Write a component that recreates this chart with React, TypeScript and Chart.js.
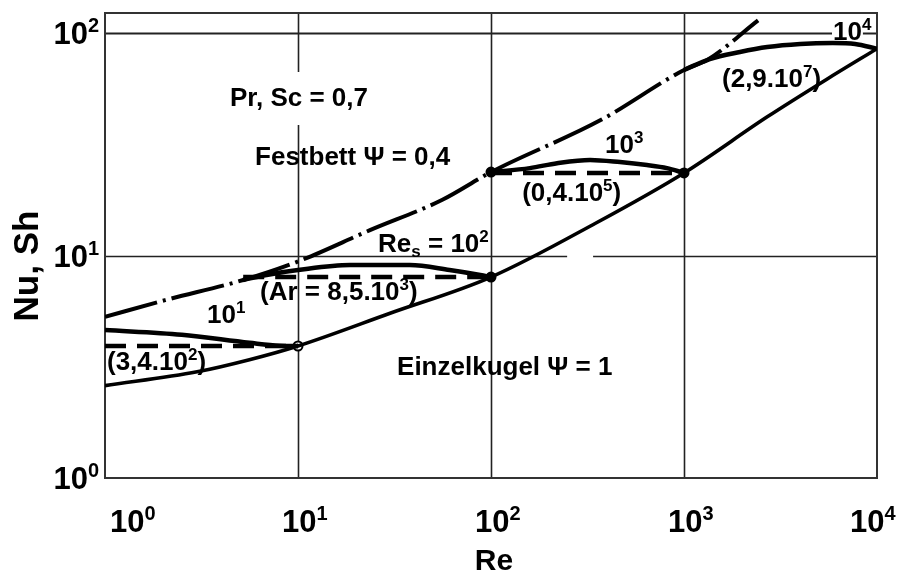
import { useEffect, useRef } from 'react';
import { Chart, registerables } from 'chart.js';

Chart.register(...registerables);

const FONT = '"Liberation Sans", Arial, Helvetica, sans-serif';

// Einzelkugel (Ψ = 1)
const reSingle = [1, 3, 5.6, 10, 30, 100, 350, 1000, 2700, 5500, 10000];
const nuSingle = [2.6, 3.0, 3.4, 3.92, 5.5, 8.0, 14, 23.5, 42, 62, 85];

// Festbett (Ψ = 0,4)
const rePacked = [1, 2.05, 5.2, 10, 23.6, 56, 100, 370, 1000, 1320, 2420];
const nuPacked = [5.3, 6.3, 7.76, 9.4, 13.0, 17.8, 23.7, 40.6, 68.2, 75.7, 114];

// Wirbelschicht, Ar = 3,4·10², Re_s = 10¹
const reAr1 = [1, 2.5, 5.6, 8, 10];
const nuAr1 = [4.62, 4.4, 4.05, 3.93, 3.92];
// Ar = 8,5·10³, Re_s = 10²
const reAr2 = [5.2, 7, 10, 18.6, 38, 61, 88, 100];
const nuAr2 = [7.76, 8.2, 8.6, 9.06, 9.06, 8.6, 8.17, 8.0];
// Ar = 0,4·10⁵, Re_s = 10³
const reAr3 = [100, 159, 220, 326, 466, 643, 816, 1000];
const nuAr3 = [23.7, 24.7, 26.0, 26.9, 26.3, 25.5, 24.7, 23.5];
// Ar = 2,9·10⁷, Re_s = 10⁴
const reAr4 = [1000, 1360, 1950, 2700, 4000, 5900, 7700, 10000];
const nuAr4 = [68.2, 76.4, 82.2, 86.5, 89.3, 90.2, 89.3, 85];

// horizontal dashed connections
const reDash1 = [1, 10];
const nuDash1 = [3.92, 3.92];
const reDash2 = [5.2, 100];
const nuDash2 = [8.0, 8.0];
const reDash3 = [100, 1000];
const nuDash3 = [23.5, 23.5];

// junction points
const reNodes = [10, 100, 100, 1000];
const nuNodes = [3.92, 8.0, 23.7, 23.5];

// decade ticks
const reTicks = [1, 10, 100, 1000, 10000];
const reTickLabels = ['10^0', '10^1', '10^2', '10^3', '10^4'];
const nuTicks = [1, 10, 100];
const nuTickLabels = ['10^0', '10^1', '10^2'];

// text labels inside the plot, anchored at (Re, Nu) = left end of baseline
const notes = [
  { text: 'Pr, Sc = 0,7', re: 4.44, nu: 47.0 },
  { text: 'Festbett Ψ = 0,4', re: 5.99, nu: 25.5 },
  { text: 'Einzelkugel Ψ = 1', re: 32.6, nu: 2.9 },
  { text: 'Re_s = 10^2', re: 26, nu: 10.37 },
  { text: '(Ar = 8,5.10^3)', re: 6.36, nu: 6.31 },
  { text: '10^1', re: 3.38, nu: 4.97 },
  { text: '(3,4.10^2)', re: 1.024, nu: 3.06 },
  { text: '10^3', re: 390, nu: 28.9 },
  { text: '(0,4.10^5)', re: 145, nu: 17.6 },
  { text: '10^4', re: 5916, nu: 93.0, knockout: true },
  { text: '(2,9.10^7)', re: 1574, nu: 57.2 },
];

const pts = (xs: number[], ys: number[]) => xs.map((x, i) => ({ x, y: ys[i] }));

type Seg = { t: string; k?: 'sup' | 'sub' };
function parseRich(s: string): Seg[] {
  const segs: Seg[] = [];
  for (let i = 0; i < s.length; i++) {
    const c = s[i];
    if ((c === '^' || c === '_') && i + 1 < s.length) {
      segs.push({ t: s[i + 1], k: c === '^' ? 'sup' : 'sub' });
      i++;
    } else {
      const last = segs[segs.length - 1];
      if (last && !last.k) last.t += c;
      else segs.push({ t: c });
    }
  }
  return segs;
}

function richLayout(ctx: CanvasRenderingContext2D, s: string, size: number) {
  const segs = parseRich(s);
  const fonts = segs.map((g) => `bold ${g.k ? Math.round(size * 0.66) : size}px ${FONT}`);
  const widths = segs.map((g, i) => {
    ctx.font = fonts[i];
    return ctx.measureText(g.t).width;
  });
  return { segs, fonts, widths };
}

function drawRich(ctx: CanvasRenderingContext2D, s: string, x: number, y: number, size: number) {
  const { segs, fonts, widths } = richLayout(ctx, s, size);
  ctx.textAlign = 'left';
  ctx.textBaseline = 'alphabetic';
  ctx.fillStyle = '#000';
  let cx = x;
  segs.forEach((g, i) => {
    ctx.font = fonts[i];
    const dy = g.k === 'sup' ? -size * 0.38 : g.k === 'sub' ? size * 0.2 : 0;
    ctx.fillText(g.t, cx, y + dy);
    cx += widths[i];
  });
}

const framePlugin = {
  id: 'frameAndGrid',
  beforeDatasetsDraw(chart: any) {
    const { ctx, chartArea: a, scales } = chart;
    const xs = scales.x;
    const ys = scales.y;
    ctx.save();
    ctx.strokeStyle = '#222';
    ctx.lineWidth = 1.6;
    const vline = (re: number, from: number, to: number) => {
      const px = Math.round(xs.getPixelForValue(re)) + 0.5;
      ctx.beginPath();
      ctx.moveTo(px, ys.getPixelForValue(from));
      ctx.lineTo(px, ys.getPixelForValue(to));
      ctx.stroke();
    };
    const hline = (nu: number, from: number, to: number) => {
      const py = Math.round(ys.getPixelForValue(nu)) + 0.5;
      ctx.beginPath();
      ctx.moveTo(xs.getPixelForValue(from), py);
      ctx.lineTo(xs.getPixelForValue(to), py);
      ctx.stroke();
    };
    const nuMax = ys.max;
    // vertical decades
    vline(10, 1, 38.6);
    vline(10, 66.8, nuMax);
    vline(100, 1, nuMax);
    vline(1000, 1, nuMax);
    // horizontal decades
    hline(10, 1, 248);
    hline(10, 338, 10000);
    ctx.lineWidth = 2;
    hline(100, 1, 10000);
    // frame
    ctx.strokeStyle = '#333';
    ctx.lineWidth = 2;
    ctx.strokeRect(Math.round(a.left), Math.round(a.top), Math.round(a.right - a.left), Math.round(a.bottom - a.top));
    ctx.restore();
  },
  afterDatasetsDraw(chart: any) {
    const { ctx, chartArea: a, scales } = chart;
    const xs = scales.x;
    const ys = scales.y;
    ctx.save();

    // notes inside the plot
    notes.forEach((n) => {
      const x = xs.getPixelForValue(n.re);
      const y = ys.getPixelForValue(n.nu);
      if (n.knockout) {
        ctx.font = `bold 26px ${FONT}`;
        const w = ctx.measureText('10').width;
        ctx.fillStyle = '#fff';
        ctx.fillRect(x - 1, y - 19, w + 2, 19);
      }
      drawRich(ctx, n.text, x, y, 26);
    });

    // y tick labels
    const tickSize = 31;
    ctx.font = `bold ${tickSize}px ${FONT}`;
    const w10 = ctx.measureText('10').width;
    nuTicks.forEach((v, i) => {
      const py = ys.getPixelForValue(v);
      drawRich(ctx, nuTickLabels[i], a.left - 17 - w10, py + 11, tickSize);
    });

    // x tick labels
    reTicks.forEach((v, i) => {
      const px = xs.getPixelForValue(v);
      let left = px - 16;
      if (i === 0) left = px + 5;
      if (i === reTicks.length - 1) left = px - 27;
      drawRich(ctx, reTickLabels[i], left, a.bottom + 54, tickSize);
    });

    // axis titles
    ctx.fillStyle = '#000';
    ctx.font = `bold 30px ${FONT}`;
    ctx.textAlign = 'center';
    ctx.textBaseline = 'alphabetic';
    ctx.fillText('Re', (a.left + a.right) / 2 + 3, a.bottom + 92);

    ctx.save();
    ctx.translate(38, 266);
    ctx.rotate(-Math.PI / 2);
    ctx.font = `bold 35px ${FONT}`;
    ctx.textAlign = 'center';
    ctx.fillText('Nu, Sh', 0, 0);
    ctx.restore();

    ctx.restore();
  },
};

export default function App() {
  const ref = useRef<HTMLCanvasElement>(null);

  useEffect(() => {
    const solid = { borderColor: '#000', pointRadius: 0, showLine: true, cubicInterpolationMode: 'monotone' as const };
    const chart = new Chart(ref.current!, {
      type: 'scatter',
      data: {
        datasets: [
          { ...solid, label: 'Einzelkugel', data: pts(reSingle, nuSingle), borderWidth: 3.6 },
          { ...solid, label: 'Festbett', data: pts(rePacked, nuPacked), borderWidth: 4, borderDash: [54, 6, 3, 6] },
          { ...solid, label: 'Ar 3,4e2', data: pts(reAr1, nuAr1), borderWidth: 4.5 },
          { ...solid, label: 'Ar 8,5e3', data: pts(reAr2, nuAr2), borderWidth: 4.5 },
          { ...solid, label: 'Ar 0,4e5', data: pts(reAr3, nuAr3), borderWidth: 4.5 },
          { ...solid, label: 'Ar 2,9e7', data: pts(reAr4, nuAr4), borderWidth: 4.5 },
          { ...solid, label: 'dash 1', data: pts(reDash1, nuDash1), borderWidth: 4.5, borderDash: [21, 11] },
          { ...solid, label: 'dash 2', data: pts(reDash2, nuDash2), borderWidth: 4.5, borderDash: [21, 11] },
          { ...solid, label: 'dash 3', data: pts(reDash3, nuDash3), borderWidth: 4.5, borderDash: [21, 11] },
          {
            label: 'nodes',
            data: pts(reNodes, nuNodes),
            showLine: false,
            pointRadius: 4.5,
            pointBorderWidth: 2,
            pointBorderColor: '#000',
            pointBackgroundColor: ['#fff', '#000', '#000', '#000'],
          },
        ],
      },
      options: {
        responsive: false,
        animation: false,
        devicePixelRatio: 1,
        layout: { padding: { left: 105, right: 22, top: 13, bottom: 95 } },
        plugins: { legend: { display: false }, tooltip: { enabled: false } },
        events: [],
        scales: {
          x: { type: 'logarithmic', min: 1, max: 10000, display: false },
          y: { type: 'logarithmic', min: 1, max: 123, display: false },
        },
      },
      plugins: [framePlugin],
    });
    return () => chart.destroy();
  }, []);

  return (
    <div style={{ position: 'fixed', left: 0, top: 0, width: 899, height: 573, background: '#fff' }}>
      <canvas ref={ref} width={899} height={573} style={{ display: 'block', width: 899, height: 573 }} />
    </div>
  );
}
